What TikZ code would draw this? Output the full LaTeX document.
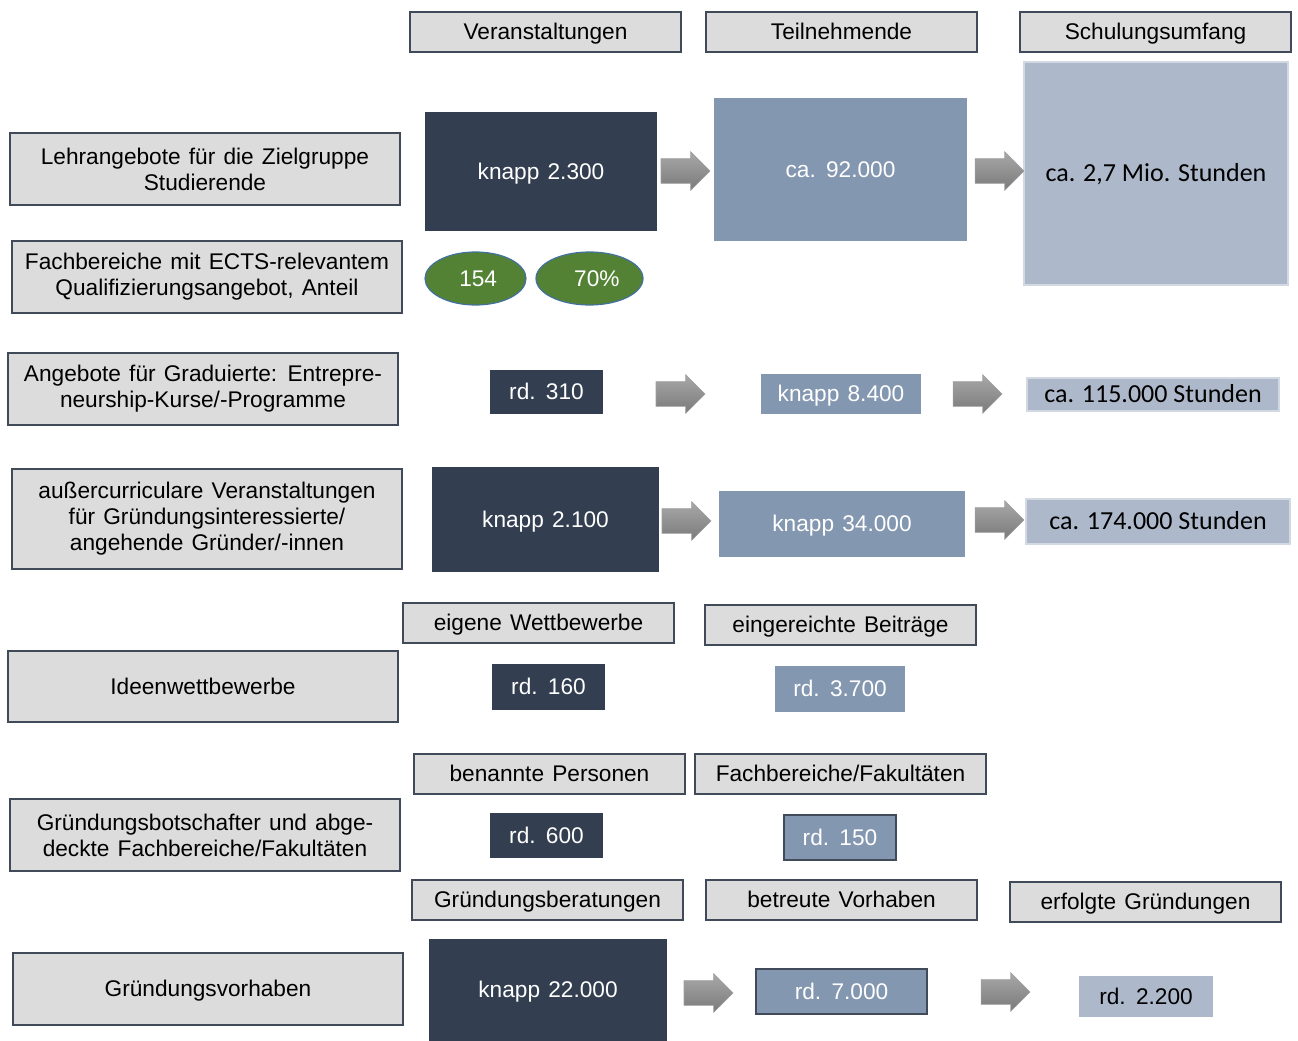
\documentclass[tikz,border=0pt]{standalone}
\usepackage{fontspec}
\setmainfont{Liberation Sans}[WordSpace=1.3]
\newfontfamily\calib{Carlito}
\usetikzlibrary{shapes.geometric,shapes.arrows}
\definecolor{dk}{HTML}{333F50}
\definecolor{md}{HTML}{8497B0}
\definecolor{lt}{HTML}{ADB9CA}
\definecolor{hg}{HTML}{DCDCDC}
\definecolor{bd}{HTML}{404A58}
\definecolor{gr}{HTML}{548235}
\definecolor{gb}{HTML}{41719C}
\definecolor{atop}{HTML}{A8A8A8}
\definecolor{abot}{HTML}{7A7A7A}
\newcommand\vst{\rule[-3.9pt]{0pt}{19.6pt}}
\newcommand\mybox[7]{\node[#2, minimum width={((#5)-(#3))*0.75pt}, minimum height={((#6)-(#4))*0.75pt}] (#1) at ({((#3)+(#5))/2},{((#4)+(#6))/2}) {#7};}
\begin{document}
\begin{tikzpicture}[x=0.75pt,y=-0.75pt,
  every node/.style={inner sep=0pt, outer sep=0pt, align=center, font=\fontsize{17}{19.5}\selectfont},
  txt/.style={execute at begin node=\vst, execute at end node=\vst},
  lab/.style={draw=bd, fill=hg, line width=0.8pt},
  hdr/.style={txt, lab},
  dkb/.style={txt, fill=dk, text=white},
  mdb/.style={txt, fill=md, text=white},
  ltb/.style={txt, fill=lt, text=black, font=\calib\fontsize{19.5}{22}\selectfont},
  elb/.style={txt, ellipse, fill=gr, draw=gb, line width=0.9pt, text=white},
  arr/.style={single arrow, anchor=west, minimum width=38*0.75pt, minimum height=49*0.75pt, inner xsep=0pt, inner ysep=9pt,
    single arrow head extend=7*0.75pt, top color=atop, bottom color=abot, draw=gray!75, line width=0.4pt}]
\useasboundingbox (0,0) rectangle (1298,1041);
% column headers
\mybox{hV}{hdr}{410}{12}{681}{52}{Veranstaltungen}
\mybox{hT}{hdr}{706}{12}{977}{52}{Teilnehmende}
\mybox{hS}{hdr}{1020}{12}{1291}{52}{Schulungsumfang}
% row labels
\mybox{l1}{lab}{10}{133}{400}{205}{Lehrangebote für die Zielgruppe\\Studierende}
\mybox{l2}{lab}{12}{241}{402}{313}{Fachbereiche mit ECTS-relevantem\\Qualifizierungsangebot, Anteil}
\mybox{l3}{lab}{8}{353}{398}{425}{Angebote für Graduierte: Entrepre-\\neurship-Kurse/-Programme}
\mybox{l4}{lab, execute at begin node=\rule{0pt}{16pt}}{12}{469}{402}{569}{außercurriculare Veranstaltungen\\für Gründungsinteressierte/\\angehende Gründer/-innen}
\mybox{l5}{hdr}{8}{651}{398}{722}{Ideenwettbewerbe}
\mybox{l6}{lab}{10}{799}{400}{871}{Gründungsbotschafter und abge-\\deckte Fachbereiche/Fakultäten}
\mybox{l7}{hdr}{13}{953}{403}{1025}{Gründungsvorhaben}
% row 1
\mybox{v1}{dkb}{425}{112}{657}{231}{knapp 2.300}
\mybox{t1}{mdb}{714}{98}{967}{241}{ca. 92.000}
\mybox{s1}{ltb, draw=lt!55!white, line width=1pt}{1024}{62}{1288}{285}{ca. 2,7 Mio. Stunden}
\node[arr] (a1) at (661,171) {};
\node[arr] (a2) at (975,171) {};
% row 2
\mybox{e1}{elb}{425}{252}{526}{305}{\hspace*{4pt}154}
\mybox{e2}{elb}{536}{252}{643}{305}{\hspace*{11pt}70\%}
% row 3
\mybox{v3}{dkb}{490}{370}{603}{414}{rd. 310}
\mybox{t3}{mdb}{761}{374}{921}{414}{knapp 8.400}
\mybox{s3}{ltb, draw=lt!55!white, line width=1pt}{1027}{378}{1279}{411}{ca. 115.000 Stunden}
\node[arr] (a3) at (656,394) {};
\node[arr] (a4) at (953,394) {};
% row 4
\mybox{v4}{dkb}{432}{467}{659}{572}{knapp 2.100}
\mybox{t4}{mdb}{719}{491}{965}{557}{knapp 34.000}
\mybox{s4}{ltb, draw=lt!55!white, line width=1pt}{1026}{499}{1290}{544}{ca. 174.000 Stunden}
\node[arr] (a5) at (662,521) {};
\node[arr] (a6) at (975,520) {};
% row 5
\mybox{h5a}{hdr}{403}{603}{674}{643}{eigene Wettbewerbe}
\mybox{h5b}{hdr}{705}{605}{976}{645}{eingereichte Beiträge}
\mybox{v5}{dkb}{492}{664}{605}{710}{rd. 160}
\mybox{t5}{mdb}{775}{666}{905}{712}{rd. 3.700}
% row 6
\mybox{h6a}{hdr}{414}{754}{685}{794}{benannte Personen}
\mybox{h6b}{hdr}{695}{754}{986}{794}{Fachbereiche/Fakultäten}
\mybox{v6}{dkb}{490}{813}{603}{858}{rd. 600}
\mybox{t6}{mdb, draw=bd, line width=1pt}{784}{815}{896}{860}{rd. 150}
% row 7
\mybox{h7a}{hdr}{412}{880}{683}{920}{Gründungsberatungen}
\mybox{h7b}{hdr}{706}{880}{977}{920}{betreute Vorhaben}
\mybox{h7c}{hdr}{1010}{882}{1281}{922}{erfolgte Gründungen}
\mybox{v7}{dkb}{429}{939}{667}{1041}{knapp 22.000}
\mybox{t7}{mdb, draw=bd, line width=1pt}{756}{969}{927}{1014}{rd. 7.000}
\mybox{s7}{ltb, font=\fontsize{17}{19.5}\selectfont}{1079}{976}{1213}{1017}{rd. 2.200}
\node[arr] (a7) at (684,993) {};
\node[arr] (a8) at (981,992) {};
\end{tikzpicture}
\end{document}
